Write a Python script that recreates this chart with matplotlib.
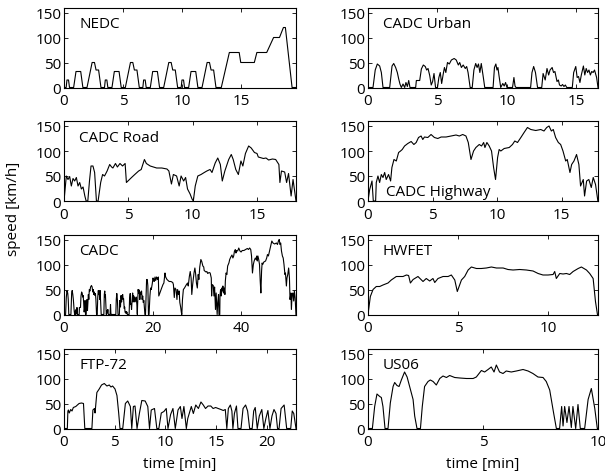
import numpy as np
import matplotlib
matplotlib.use('Agg')
import matplotlib.pyplot as plt

plt.rcParams['font.family'] = ['Open Sans', 'DejaVu Sans']
plt.rcParams['font.size'] = 11

# NEDC, time in seconds
nedc = [(0, 0), (11, 0), (15, 15), (23, 15), (28, 0), (49, 0), (61, 32), (85, 32), (96, 0),
        (117, 0), (143, 50), (155, 50), (163, 35), (176, 35), (188, 0), (195, 0),
        (206, 0), (210, 15), (218, 15), (223, 0), (244, 0), (256, 32), (280, 32), (291, 0),
        (312, 0), (338, 50), (350, 50), (358, 35), (371, 35), (383, 0), (390, 0),
        (401, 0), (405, 15), (413, 15), (418, 0), (439, 0), (451, 32), (475, 32), (486, 0),
        (507, 0), (533, 50), (545, 50), (553, 35), (566, 35), (578, 0), (585, 0),
        (596, 0), (600, 15), (608, 15), (613, 0), (634, 0), (646, 32), (670, 32), (681, 0),
        (702, 0), (728, 50), (740, 50), (748, 35), (761, 35), (773, 0), (780, 0),
        (800, 0), (841, 70), (891, 70), (899, 50), (968, 50), (981, 70), (1031, 70),
        (1066, 100), (1096, 100), (1116, 120), (1126, 120), (1160, 0), (1180, 0)]

# the rest in minutes
urban = [(0, 0), (0.36, 0), (0.52, 35), (0.67, 47), (0.84, 43), (0.96, 30), (1.08, 0),
         (1.56, 0), (1.73, 43), (1.85, 48), (1.99, 40), (2.11, 30), (2.21, 17), (2.30, 7), (2.40, 0),
         (2.52, 7), (2.64, 0), (2.73, 10), (2.83, 2), (2.93, 14), (3.02, 0),
         (3.43, 0), (3.48, 14), (3.72, 14), (3.84, 37), (3.98, 45), (4.12, 42), (4.22, 35), (4.32, 38),
         (4.44, 24), (4.55, 5), (4.65, 12), (4.75, 28), (4.86, 0),
         (5.0, 0), (5.1, 20), (5.2, 30), (5.3, 8), (5.4, 25), (5.5, 40), (5.6, 30), (5.72, 50), (5.85, 47),
         (6.0, 55), (6.2, 58), (6.35, 55), (6.5, 45), (6.6, 50), (6.72, 40), (6.85, 45), (7.0, 38),
         (7.1, 42), (7.2, 30), (7.35, 0),
         (7.5, 0), (7.62, 35), (7.75, 48), (7.85, 40), (7.95, 47), (8.05, 30), (8.15, 48), (8.3, 20), (8.4, 0),
         (9.0, 0), (9.1, 40), (9.2, 47), (9.28, 35), (9.35, 40), (9.42, 25), (9.55, 0), (9.7, 8), (9.8, 3),
         (9.9, 10), (10.0, 0),
         (10.4, 0), (10.5, 20), (10.58, 3), (10.65, 0),
         (11.7, 0), (11.8, 30), (11.92, 42), (12.05, 30), (12.2, 0),
         (12.5, 0), (12.6, 28), (12.75, 15), (12.88, 38), (13.0, 25), (13.1, 35), (13.25, 40), (13.35, 30),
         (13.45, 32), (13.6, 12), (13.7, 15), (13.78, 5), (13.9, 3), (14.0, 6), (14.1, 2), (14.2, 5), (14.3, 0),
         (14.7, 0), (14.8, 30), (14.95, 42), (15.05, 20), (15.15, 22), (15.25, 10), (15.35, 25), (15.5, 43),
         (15.6, 25), (15.7, 38), (15.8, 30), (15.9, 35), (16.0, 25), (16.1, 32), (16.2, 30), (16.3, 35),
         (16.45, 20), (16.55, 0)]

road = [(0, 0), (0.18, 50), (0.31, 43), (0.44, 49), (0.57, 30), (0.70, 45), (0.83, 40), (0.96, 47),
        (1.09, 30), (1.22, 37), (1.35, 24), (1.48, 28), (1.62, 10), (1.72, 0),
        (1.85, 0), (1.98, 40), (2.1, 70), (2.25, 70), (2.38, 57), (2.52, 0), (2.65, 0),
        (2.85, 37), (3.0, 53), (3.15, 50), (3.35, 60), (3.55, 73), (3.7, 68), (3.8, 66), (4.0, 75),
        (4.15, 68), (4.35, 75), (4.55, 70), (4.75, 75), (4.85, 37), (5.05, 42), (5.25, 47), (5.5, 53),
        (5.8, 60), (6.0, 63), (6.25, 83), (6.4, 75), (6.7, 70), (6.95, 68), (7.2, 66), (7.6, 66),
        (8.0, 64), (8.15, 60), (8.35, 34), (8.5, 53), (8.75, 50), (8.95, 30), (9.1, 50), (9.3, 40),
        (9.45, 47), (9.6, 24), (9.8, 14), (9.95, 4), (10.05, 0), (10.2, 30), (10.4, 50), (10.65, 53),
        (10.9, 57), (11.1, 60), (11.35, 63), (11.5, 57), (11.75, 76), (11.95, 86), (12.15, 73),
        (12.3, 40), (12.5, 60), (12.8, 83), (13.0, 93), (13.15, 83), (13.35, 63), (13.55, 53),
        (13.75, 80), (13.9, 70), (14.1, 95), (14.35, 110), (14.55, 106), (14.8, 97), (15.0, 95),
        (15.1, 88), (15.5, 85), (15.7, 86), (15.9, 82), (16.2, 84), (16.45, 83), (16.7, 73), (16.78, 37),
        (16.9, 60), (17.15, 58), (17.3, 37), (17.45, 55), (17.65, 10), (17.8, 43), (18.03, 0)]

highway = [(0, 0), (0.13, 23), (0.31, 40), (0.41, 0), (0.59, 0), (0.64, 37), (0.77, 50), (0.90, 37),
           (1.03, 53), (1.16, 47), (1.29, 57), (1.41, 43), (1.59, 53), (1.75, 40), (1.85, 67), (2.01, 83),
           (2.19, 80), (2.37, 97), (2.52, 100), (2.65, 103), (2.83, 110), (3.08, 115), (3.34, 119),
           (3.55, 113), (3.73, 117), (3.91, 127), (4.11, 130), (4.24, 123), (4.37, 128), (4.63, 127),
           (4.88, 133), (5.14, 127), (5.40, 125), (5.66, 128), (6.04, 128), (6.43, 130), (6.81, 132),
           (7.07, 130), (7.33, 133), (7.58, 130), (7.76, 117), (7.97, 83), (8.17, 100), (8.35, 107),
           (8.61, 113), (8.79, 110), (8.95, 117), (9.05, 107), (9.20, 117), (9.38, 110), (9.56, 100),
           (9.72, 67), (9.87, 43), (10.03, 87), (10.15, 103), (10.28, 100), (10.54, 105), (10.93, 107),
           (11.18, 113), (11.36, 120), (11.57, 117), (11.83, 127), (12.08, 137), (12.34, 147),
           (12.60, 143), (12.98, 141), (13.37, 143), (13.62, 140), (13.83, 147), (14.01, 150),
           (14.19, 140), (14.34, 143), (14.52, 127), (14.73, 117), (14.91, 113), (15.09, 100),
           (15.30, 80), (15.42, 83), (15.63, 57), (15.76, 73), (15.94, 80), (16.14, 93), (16.32, 73),
           (16.45, 30), (16.66, 43), (16.76, 10), (16.92, 40), (17.09, 43), (17.28, 27), (17.43, 47),
           (17.61, 33), (17.79, 0)]

hwfet = [(0, 0), (0.13, 36), (0.28, 50), (0.46, 56), (0.65, 56), (0.83, 59), (1.11, 63), (1.29, 69),
         (1.57, 76), (1.94, 76), (2.13, 79), (2.25, 78), (2.35, 63), (2.5, 70), (2.77, 76), (3.05, 66),
         (3.23, 72), (3.42, 67), (3.60, 72), (3.70, 64), (3.88, 72), (4.16, 76), (4.44, 76), (4.62, 79),
         (4.81, 69), (4.95, 46), (5.05, 56), (5.18, 69), (5.36, 76), (5.55, 89), (5.73, 95), (6.01, 92),
         (6.28, 92), (6.56, 93), (6.84, 95), (7.12, 93), (7.49, 93), (7.76, 90), (8.04, 89), (8.41, 90),
         (8.78, 89), (9.15, 87), (9.43, 82), (9.70, 79), (9.98, 79), (10.26, 80), (10.35, 86),
         (10.44, 72), (10.63, 82), (10.81, 81), (11.0, 82), (11.18, 80), (11.37, 86), (11.65, 92),
         (11.83, 95), (12.11, 89), (12.29, 82), (12.48, 72), (12.61, 26), (12.72, 0)]

ftp72 = [(0, 0), (0.33, 0), (0.38, 34), (0.43, 37), (0.52, 31), (0.66, 38), (0.79, 35), (0.92, 42),
         (1.16, 44), (1.32, 47), (1.49, 50), (1.72, 51), (1.92, 50), (2.05, 0), (2.75, 0), (2.85, 37),
         (3.0, 40), (3.06, 31), (3.24, 72), (3.47, 79), (3.7, 87), (3.97, 90), (4.23, 85), (4.46, 87),
         (4.63, 83), (4.79, 85), (5.03, 79), (5.22, 66), (5.39, 31), (5.52, 0), (5.79, 0), (6.05, 50),
         (6.28, 55), (6.54, 44), (6.68, 0), (6.84, 44), (7.0, 45), (7.2, 0), (7.43, 30), (7.67, 56),
         (8.0, 55), (8.26, 44), (8.43, 0), (8.6, 37), (8.92, 40), (9.15, 0), (9.35, 0), (9.59, 31),
         (9.85, 34), (10.08, 40), (10.25, 0), (10.51, 28), (10.74, 40), (10.97, 0), (11.24, 37),
         (11.47, 44), (11.63, 20), (11.82, 44), (12.06, 0), (12.2, 20), (12.55, 44), (12.75, 30),
         (12.99, 47), (13.25, 40), (13.5, 53), (13.73, 47), (13.95, 40), (14.2, 45), (14.47, 45),
         (14.7, 40), (14.95, 42), (15.2, 40), (15.47, 38), (15.7, 36), (15.9, 38), (16.05, 0),
         (16.2, 40), (16.4, 47), (16.55, 35), (16.65, 0), (16.8, 30), (17.0, 45), (17.15, 0),
         (17.45, 0), (17.65, 40), (17.9, 47), (18.1, 35), (18.3, 0), (18.55, 0), (18.7, 35),
         (18.85, 42), (19.05, 0), (19.25, 25), (19.5, 38), (19.7, 0), (19.9, 20), (20.1, 36),
         (20.3, 0), (20.5, 25), (20.7, 38), (20.9, 30), (21.05, 0), (21.2, 0), (21.4, 40),
         (21.7, 47), (21.95, 0), (22.35, 0), (22.5, 35), (22.65, 30), (22.87, 0)]

us06 = [(0, 0), (0.19, 0), (0.29, 44), (0.39, 69), (0.51, 64), (0.58, 62), (0.65, 44), (0.74, 0),
        (0.87, 0), (0.97, 51), (1.09, 84), (1.16, 92), (1.26, 86), (1.35, 84), (1.45, 97), (1.59, 113),
        (1.70, 103), (1.81, 84), (1.96, 58), (2.03, 25), (2.13, 0), (2.28, 0), (2.36, 44), (2.46, 84),
        (2.61, 94), (2.71, 97), (2.83, 94), (2.97, 87), (3.12, 100), (3.26, 105), (3.41, 102),
        (3.55, 106), (3.77, 102), (3.99, 101), (4.28, 100), (4.57, 100), (4.71, 103), (4.93, 116),
        (5.07, 113), (5.22, 118), (5.36, 123), (5.48, 113), (5.58, 127), (5.72, 113), (5.87, 110),
        (6.01, 115), (6.23, 113), (6.45, 115), (6.74, 118), (6.96, 115), (7.17, 110), (7.39, 103),
        (7.61, 102), (7.75, 94), (7.90, 77), (8.07, 31), (8.19, 0), (8.33, 0), (8.42, 44), (8.48, 5),
        (8.55, 44), (8.65, 12), (8.74, 44), (8.84, 2), (8.91, 44), (9.03, 0), (9.13, 48), (9.23, 0),
        (9.42, 0), (9.57, 58), (9.71, 80), (9.86, 40), (9.97, 0), (10.0, 0)]

urban_end = 16.55
road_end = 18.03

def split(pairs, scale=1.0):
    a = np.array(pairs, dtype=float)
    return a[:, 0] * scale, a[:, 1]

t_nedc, v_nedc = split(nedc, 1 / 60)
t_urb, v_urb = split(urban)
t_road, v_road = split(road)
t_hw, v_hw = split(highway)
t_hwfet, v_hwfet = split(hwfet)
t_ftp, v_ftp = split(ftp72)
t_us, v_us = split(us06)

# full CADC = urban + road + highway
t_cadc = np.concatenate([t_urb, t_road + urban_end, t_hw + urban_end + road_end])
v_cadc = np.concatenate([v_urb, v_road, v_hw])

panels = [
    ('NEDC', t_nedc, v_nedc, 1180 / 60, [0, 5, 10, 15], 'top'),
    ('CADC Urban', t_urb, v_urb, urban_end, [0, 5, 10, 15], 'top'),
    ('CADC Road', t_road, v_road, road_end, [0, 5, 10, 15], 'top'),
    ('CADC Highway', t_hw, v_hw, 17.8, [0, 5, 10, 15], 'bottom'),
    ('CADC', t_cadc, v_cadc, urban_end + road_end + 17.8, [0, 20, 40], 'top'),
    ('HWFET', t_hwfet, v_hwfet, 12.75, [0, 5, 10], 'top'),
    ('FTP-72', t_ftp, v_ftp, 22.87, [0, 5, 10, 15, 20], 'top'),
    ('US06', t_us, v_us, 10, [0, 5, 10], 'top'),
]

W, H = 605, 477
fig = plt.figure(figsize=(W / 100, H / 100), dpi=100)
lefts = [64, 368]
widths = [232, 230]
bottoms = [88.5, 202, 315.5, 429.5]
ah = 80

for i, (name, t, v, tmax, xt, pos) in enumerate(panels):
    r, c = divmod(i, 2)
    ax = fig.add_axes([lefts[c] / W, 1 - bottoms[r] / H, widths[c] / W, ah / H])
    ax.plot(t, v, color='black', lw=0.8)
    ax.set_xlim(0, tmax)
    ax.set_ylim(0, 160)
    ax.set_xticks(xt)
    ax.set_yticks([0, 50, 100, 150])
    ax.tick_params(direction='in', top=True, right=True, length=3, width=0.6)
    ax.tick_params(axis='x', pad=4)
    ax.tick_params(axis='y', pad=2)
    for s in ax.spines.values():
        s.set_linewidth(0.8)
    if pos == 'top':
        ax.text(0.065, 0.8, name, transform=ax.transAxes, va='center', ha='left')
    else:
        ax.text(0.08, 0.12, name, transform=ax.transAxes, va='center', ha='left')

fig.text(14 / W, 1 - 209 / H, 'speed [km/h]', rotation=90, ha='center', va='center')
fig.text(180 / W, 1 - 465 / H, 'time [min]', ha='center', va='center')
fig.text(483 / W, 1 - 465 / H, 'time [min]', ha='center', va='center')

fig.savefig('out.png', dpi=100)
